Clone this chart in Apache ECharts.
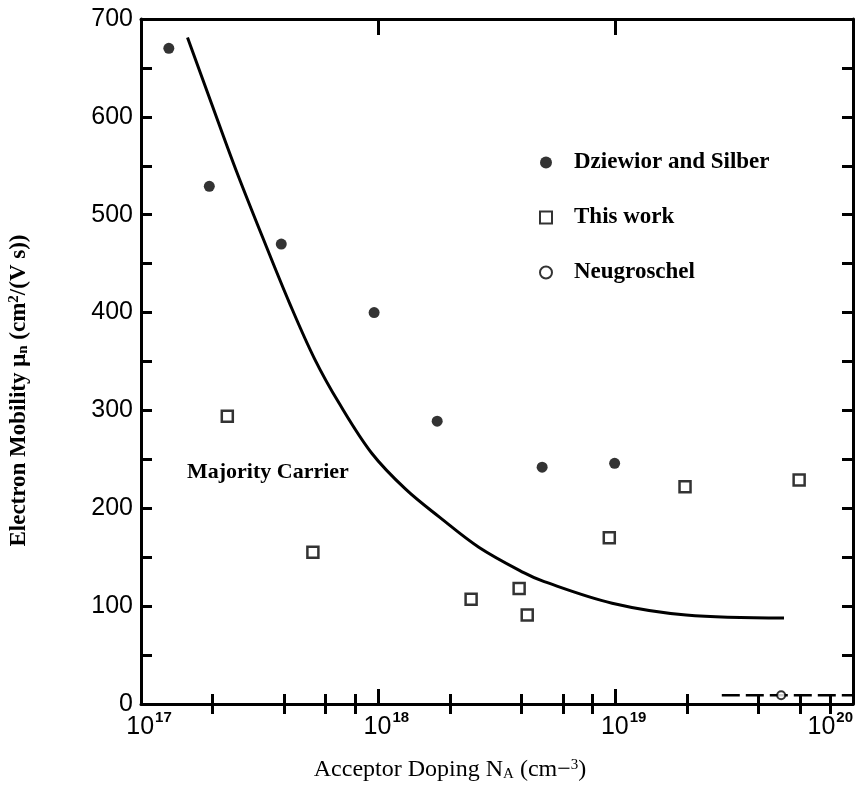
<!DOCTYPE html>
<html><head><meta charset="utf-8">
<script src="https://cdn.jsdelivr.net/npm/echarts@6/dist/echarts.min.js"></script>
<style>html,body{margin:0;padding:0;background:#fff}#c{width:863px;height:785px}</style>
</head><body><div id="c"></div>
<script>
// Dziewior and Silber (filled circles)
const dzX = [1.31e17, 1.94e17, 3.9e17, 9.6e17, 1.77e18, 4.9e18, 9.9e18];
const dzY = [670, 529, 470, 400, 289, 242, 246];
// This work (open squares)
const twX = [2.31e17, 5.3e17, 2.46e18, 3.92e18, 4.24e18, 9.4e18, 1.96e19, 5.93e19];
const twY = [294, 155, 107, 118, 91, 170, 222, 229];
// Neugroschel (small open circle) and its horizontal range bar
const ngX = [4.98e19];
const ngY = [9];
const ngRangeX = [2.8e19, 1.0e20];
const ngRangeY = [9, 9];
// Majority carrier curve
const mcX = [1.57e17, 1.98e17, 2.52e17, 3.38e17, 4.22e17, 5.38e17, 6.85e17, 9.4e17, 1.31e18, 1.81e18, 2.66e18, 4.12e18, 5.0e18, 9.66e18, 1.98e19, 5.12e19];
const mcY = [681, 614, 545, 467, 410, 353, 307, 256, 219, 191, 160, 134, 125, 103, 91, 88];
// Axis ticks
const yTickLabels = ['0', '100', '200', '300', '400', '500', '600', '700'];
const xDecades = [1e17, 1e18, 1e19, 1e20];
const xDecadeExps = ['17', '18', '19', '20'];
const xMinorTicks = [2e17, 4e17, 6e17, 8e17, 2e18, 4e18, 6e18, 8e18, 2e19, 4e19, 6e19, 8e19];

const zip = (a, b) => a.map((v, i) => [v, b[i]]);
const serif = 'Liberation Serif';
const sans = 'Liberation Sans';

const chart = echarts.init(document.getElementById('c'), null, {renderer: 'canvas'});

const baseX = {
  type: 'log', logBase: 10, min: 1e17, max: 1e20,
  axisLine: {show: false},
  splitLine: {show: false},
  axisLabel: {show: false},
  axisTick: {show: false}
};
const xAxes = [
  Object.assign({}, baseX, {
    position: 'bottom',
    axisLine: {show: true, onZero: false, lineStyle: {color: '#000', width: 3}},
    axisTick: {show: true, inside: true, length: 15, lineStyle: {color: '#000', width: 3}, customValues: xDecades},
    axisLabel: {
      show: true, margin: 6, customValues: xDecades,
      alignMaxLabel: 'right',
      formatter: function (v) {
        const i = xDecades.findIndex(d => Math.abs(Math.log10(d) - Math.log10(v)) < 1e-6);
        const pre = i === xDecades.length - 1 ? 'c' : 'b';
        return '{' + pre + '|10}{s|' + (i >= 0 ? xDecadeExps[i] : '') + '}';
      },
      rich: {
        b: {fontFamily: sans, fontSize: 25, color: '#000', lineHeight: 30, verticalAlign: 'bottom', padding: [0, 0, 0, 16]},
        c: {fontFamily: sans, fontSize: 25, color: '#000', lineHeight: 30, verticalAlign: 'bottom'},
        s: {fontFamily: sans, fontSize: 15, fontWeight: 'bold', color: '#000', lineHeight: 30, verticalAlign: 'top', padding: [0, 0, 0, 1]}
      }
    },
    name: '{t|Acceptor Doping N}{sub|A}{t| (cm}{t|\u2212}{sup|3}{t|)}',
    nameLocation: 'middle', nameGap: 54,
    nameTextStyle: {
      padding: [0, 94, 0, 0],
      rich: {
        t: {fontFamily: serif, fontSize: 24, color: '#000'},
        sub: {fontFamily: serif, fontSize: 15, color: '#000', padding: [9, 0, 0, 0]},
        sup: {fontFamily: serif, fontSize: 15, color: '#000', padding: [0, 0, 9, 0]}
      }
    }
  }),
  Object.assign({}, baseX, {
    position: 'bottom',
    axisTick: {show: true, inside: true, length: 10, lineStyle: {color: '#000', width: 3}, customValues: xMinorTicks}
  }),
  Object.assign({}, baseX, {
    position: 'top',
    axisLine: {show: true, onZero: false, lineStyle: {color: '#000', width: 3}},
    axisTick: {show: true, inside: true, length: 16, lineStyle: {color: '#000', width: 3}, customValues: xDecades}
  }),
  Object.assign({}, baseX, {
    position: 'top',
    axisTick: {show: true, inside: true, length: 10, lineStyle: {color: '#000', width: 3}, customValues: xMinorTicks}
  })
];

const baseY = {
  type: 'value', min: 0, max: 700, interval: 100,
  splitLine: {show: false},
  axisLine: {show: true, onZero: false, lineStyle: {color: '#000', width: 3}},
  axisTick: {show: true, inside: true, length: 11, lineStyle: {color: '#000', width: 3}},
  minorTick: {show: true, splitNumber: 2, length: 11, lineStyle: {color: '#000', width: 3}}
};
const yAxes = [
  Object.assign({}, baseY, {
    position: 'left',
    axisLabel: {
      show: true, margin: 8, fontFamily: sans, fontSize: 25, color: '#000',
      formatter: function (v) { return yTickLabels[Math.round(v / 100)] || ''; }
    },
    name: '{t|Electron Mobility \u03bc}{sub|n}{t| (cm}{sup|2}{t|/(V s))}',
    nameLocation: 'middle', nameGap: 110, nameRotate: 90,
    nameTextStyle: {
      padding: [0, 58, 0, 0],
      rich: {
        t: {fontFamily: serif, fontSize: 23, fontWeight: 'bold', color: '#000'},
        sub: {fontFamily: serif, fontSize: 15, fontWeight: 'bold', color: '#000', padding: [9, 0, 0, 0]},
        sup: {fontFamily: serif, fontSize: 15, fontWeight: 'bold', color: '#000', padding: [0, 0, 9, 0]}
      }
    }
  }),
  Object.assign({}, baseY, {
    position: 'right',
    axisLabel: {show: false}
  })
];

const option = {
  backgroundColor: '#fff',
  animation: false,
  grid: {left: 141, right: 10, top: 19, bottom: 81, containLabel: false, outerBoundsMode: 'none'},
  xAxis: xAxes,
  yAxis: yAxes,
  legend: {
    orient: 'vertical', left: 534, top: 146,
    itemWidth: 12, itemHeight: 12, itemGap: 32,
    data: ['Dziewior and Silber', 'This work', 'Neugroschel'],
    textStyle: {fontFamily: serif, fontSize: 23, fontWeight: 'bold', color: '#000', padding: [0, 0, 0, 17]},
    selectedMode: false
  },
  graphic: [{
    type: 'text', left: 187, top: 461,
    style: {text: 'Majority Carrier', font: 'bold 22px "Liberation Serif"', fill: '#000'}
  }],
  series: [
    {
      name: 'Majority Carrier', type: 'line', data: zip(mcX, mcY), smooth: 0.35,
      showSymbol: false, symbol: 'none',
      lineStyle: {color: '#000', width: 3}, z: 2
    },
    {
      name: 'Dziewior and Silber', type: 'scatter', data: zip(dzX, dzY),
      symbol: 'circle', symbolSize: 11,
      itemStyle: {color: '#000'}, z: 3
    },
    {
      name: 'This work', type: 'scatter', data: zip(twX, twY),
      symbol: 'rect', symbolSize: 11,
      itemStyle: {color: '#fff', borderColor: '#000', borderWidth: 2.5}, z: 3
    },
    {
      name: 'Neugroschel range', type: 'line', data: zip(ngRangeX, ngRangeY),
      showSymbol: false, symbol: 'none',
      lineStyle: {color: '#000', width: 2.5, type: [18, 6]}, z: 2
    },
    {
      name: 'Neugroschel', type: 'scatter', data: zip(ngX, ngY),
      symbol: 'circle', symbolSize: 8,
      itemStyle: {color: '#fff', borderColor: '#000', borderWidth: 2}, z: 3
    }
  ]
};
chart.setOption(option);
</script>
</body></html>
